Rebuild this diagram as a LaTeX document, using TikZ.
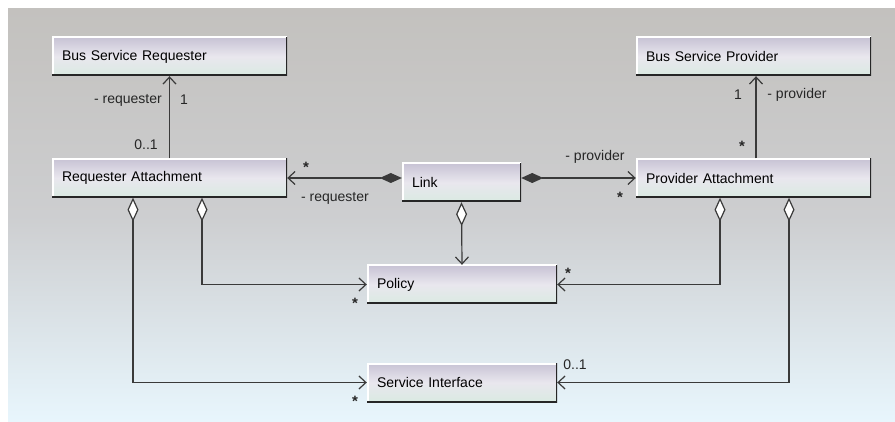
\documentclass[tikz,border=0pt]{standalone}
\usepackage{fontspec}
\setmainfont{Liberation Sans}
\usepackage{tikz}
\usetikzlibrary{arrows.meta, calc}
\definecolor{wire}{RGB}{58,58,58}
\definecolor{boxtop}{RGB}{199,194,212}
\definecolor{boxmid}{RGB}{233,231,238}
\definecolor{boxbot}{RGB}{218,234,226}
\definecolor{bgtop}{RGB}{195,193,190}
\definecolor{bgmid}{RGB}{205,206,208}
\definecolor{bgbot}{RGB}{232,246,253}
\tikzstyle{assoc} = [draw=wire, line width=1.2pt, -{Straight Barb[length=7pt,width=13pt]}]
\tikzstyle{compo} = [draw=wire, line width=1.2pt, {Diamond[length=22pt,width=10pt]}-{Straight Barb[length=7pt,width=13pt]}]
\tikzstyle{aggr}  = [draw=wire, line width=1.2pt, {Diamond[open,fill=white,length=24pt,width=11pt]}-{Straight Barb[length=7pt,width=13pt]}]

\begin{document}
\begin{tikzpicture}[x=1pt, y=-1pt,
    cls/.style={rectangle, minimum height=39pt, inner xsep=10pt, inner ysep=0pt,
      align=left, font=\fontsize{14}{16}\selectfont,
      top color=boxtop, bottom color=boxbot, middle color=boxmid,
      path picture={
        \draw[white, line width=3pt] (path picture bounding box.south west) |- (path picture bounding box.north east);
        \draw[black!85, line width=3pt] (path picture bounding box.south west) -| (path picture bounding box.north east);
      }},
    wide/.style={cls, text width=215pt},
    mid/.style={cls, text width=170pt},
    lbl/.style={inner sep=1pt, font=\fontsize{14}{16}\selectfont, text=black!85},
    mult/.style={inner sep=0pt, font=\fontsize{15}{16}\selectfont\bfseries, text=black!85},
  ]
  \useasboundingbox (0,0) rectangle (895,422);
  \fill[top color=bgtop, bottom color=bgbot, middle color=bgmid] (8,9) rectangle (895,422);

  % classes
  \node[wide] (bsr) at (169.5,56.5) {Bus Service Requester};
  \node[wide] (ra)  at (169.5,178)  {Requester Attachment};
  \node[cls, text width=99pt] (lnk) at (461.5,182.5) {Link};
  \node[wide] (bsp) at (753.5,56.5) {Bus Service Provider};
  \node[wide] (pa)  at (753.5,178)  {Provider Attachment};
  \node[mid]  (pol) at (462,284.5)  {Policy};
  \node[mid]  (si)  at (462,382.5)  {Service Interface};

  % associations
  \draw[assoc] (ra.north) -- (bsr.south);
  \draw[assoc] ([xshift=2.5pt]pa.north) -- ([xshift=2.5pt]bsp.south);
  \draw[compo] (ra.east -| lnk.west) -- (ra.east);
  \draw[compo] (pa.west -| lnk.east) -- (pa.west);
  \draw[aggr] (lnk.south) -- (pol.north);
  \draw[aggr] ([xshift=32.5pt]ra.south) |- (pol.west);
  \draw[aggr] ([xshift=-36.5pt]ra.south) |- (si.west);
  \draw[aggr] ([xshift=-33.5pt]pa.south) |- (pol.east);
  \draw[aggr] ([xshift=35.5pt]pa.south) |- (si.east);

  % role names and multiplicities
  \node[lbl, anchor=east] (rq1) at (163,100) {- requester};
  \node[lbl] (m1) at (184,100) {1};
  \node[lbl] (m2) at (146,145) {0..1};
  \node[mult] (m3) at (306,167) {*};
  \node[lbl] (rq2) at (335,198) {- requester};
  \node[lbl] (pv1) at (595,157) {- provider};
  \node[mult] (m4) at (620,197) {*};
  \node[lbl] (m5) at (738,95) {1};
  \node[lbl] (pv2) at (797,95) {- provider};
  \node[mult] (m6) at (742,146) {*};
  \node[mult] (m7) at (355,303) {*};
  \node[mult] (m8) at (355,401) {*};
  \node[mult] (m9) at (568,273) {*};
  \node[lbl] (m10) at (575,365) {0..1};
\end{tikzpicture}
\end{document}
